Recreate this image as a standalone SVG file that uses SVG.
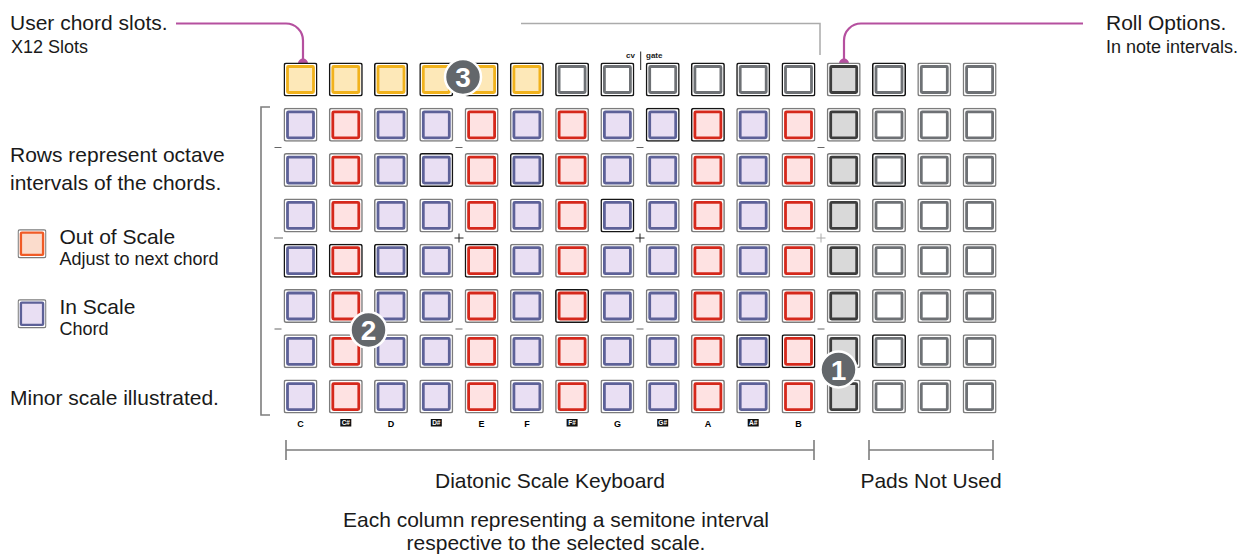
<svg xmlns="http://www.w3.org/2000/svg" xmlns:xlink="http://www.w3.org/1999/xlink" width="1253" height="557" viewBox="0 0 1253 557">
<style>
text{font-family:"Liberation Sans",Arial,sans-serif;fill:#1a1a1a}
.t{font-size:21px}
.s{font-size:18px}
.c{text-anchor:middle}
.n{font-size:9px;font-weight:bold;text-anchor:middle;fill:#000}
.sh{font-size:6.5px;font-weight:bold;text-anchor:middle;fill:#fff}
.pad{color:#7c7c7c}
.dk{color:#151515}
.o{fill:#fff;stroke:currentColor;stroke-width:1.5}
.lead{fill:none;stroke:#b5509f;stroke-width:2.2}
.gl{fill:none;stroke:#ababab;stroke-width:1.5}
.br{fill:none;stroke:#7d7d7d;stroke-width:1.6}
.tk{fill:none;stroke:#666;stroke-width:1}
.pl{fill:none;stroke:#222;stroke-width:1}
.bd circle{fill:#63676b;stroke:#fff;stroke-width:2.5}
.bd text{fill:#fff;font-size:28px;font-weight:bold;text-anchor:middle}
</style>
<defs>
<symbol id="P" viewBox="0 0 34 34"><rect class="o" x="0.75" y="0.75" width="32.5" height="32.5" rx="2"/><rect x="4" y="4" width="26" height="26" rx="1" fill="#e9dff3" stroke="#5d6198" stroke-width="2.8"/></symbol>
<symbol id="R" viewBox="0 0 34 34"><rect class="o" x="0.75" y="0.75" width="32.5" height="32.5" rx="2"/><rect x="4" y="4" width="26" height="26" rx="1" fill="#fee2e2" stroke="#d5281b" stroke-width="2.8"/></symbol>
<symbol id="Y" viewBox="0 0 34 34"><rect class="o" x="0.75" y="0.75" width="32.5" height="32.5" rx="2"/><rect x="4" y="4" width="26" height="26" rx="1" fill="#fde8b8" stroke="#f1b21c" stroke-width="2.8"/></symbol>
<symbol id="W" viewBox="0 0 34 34"><rect class="o" x="0.75" y="0.75" width="32.5" height="32.5" rx="2"/><rect x="4" y="4" width="26" height="26" rx="1" fill="#fff" stroke="#6e7175" stroke-width="2.8"/></symbol>
<symbol id="G" viewBox="0 0 34 34"><rect class="o" x="0.75" y="0.75" width="32.5" height="32.5" rx="2"/><rect x="4" y="4" width="26" height="26" rx="1" fill="#d9d9d9" stroke="#3d3d3d" stroke-width="2.8"/></symbol>
<symbol id="O" viewBox="0 0 34 34"><rect class="o" x="0.75" y="0.75" width="32.5" height="32.5" rx="2"/><rect x="4" y="4" width="26" height="26" rx="1" fill="#fbdccc" stroke="#f05b26" stroke-width="2.8"/></symbol>
</defs>
<rect width="1253" height="557" fill="#fff"/>

<g id="connectors">
<path class="lead" d="M176 23.5 H286 A17 17 0 0 1 303 40.5 V63"/>
<circle cx="303" cy="63.5" r="5" fill="#b5509f"/>
<path class="lead" d="M1083 23.5 H861 A17 17 0 0 0 844 40.5 V63"/>
<circle cx="844" cy="63.5" r="5" fill="#b5509f"/>
<path class="gl" d="M521 23.5 H820 V55"/>
<path class="br" d="M270 107 H261 V415 H270"/>
<path class="br" d="M286 450 H814 M286 440 V460 M814 440 V460"/>
<path class="br" d="M869 450 H993 M869 440 V460 M993 440 V460"/>
<path class="pl" d="M640.7 51.5 V70"/>
<path class="tk" d="M274.5 147.5 H281.5 M455.5 147.5 H462.5 M636.5 147.5 H643.5 M817.5 147.5 H824.5"/>
<path class="tk" d="M274 238 H283"/>
<path class="pl" d="M454.5 238 H463.5 M459 233.5 V242.5 M635.5 238 H644.5 M640 233.5 V242.5"/>
<path class="tk" style="stroke:#aaa" d="M816.5 238 H825.5 M821 233.5 V242.5"/>
<path class="tk" d="M274.5 329 H281.5 M455.5 329 H462.5 M636.5 329 H643.5 M817.5 329 H824.5"/>
</g>

<g id="pads">
<g id="pad-r0c0" class="pad dk"><use href="#Y" x="283.5" y="62.5" width="34" height="34"/></g>
<g id="pad-r0c1" class="pad dk"><use href="#Y" x="328.8" y="62.5" width="34" height="34"/></g>
<g id="pad-r0c2" class="pad dk"><use href="#Y" x="374" y="62.5" width="34" height="34"/></g>
<g id="pad-r0c3" class="pad dk"><use href="#Y" x="419.3" y="62.5" width="34" height="34"/></g>
<g id="pad-r0c4" class="pad dk"><use href="#Y" x="464.6" y="62.5" width="34" height="34"/></g>
<g id="pad-r0c5" class="pad dk"><use href="#Y" x="509.9" y="62.5" width="34" height="34"/></g>
<g id="pad-r0c6" class="pad dk"><use href="#W" x="555.1" y="62.5" width="34" height="34"/></g>
<g id="pad-r0c7" class="pad dk"><use href="#W" x="600.4" y="62.5" width="34" height="34"/></g>
<g id="pad-r0c8" class="pad dk"><use href="#W" x="645.7" y="62.5" width="34" height="34"/></g>
<g id="pad-r0c9" class="pad dk"><use href="#W" x="690.9" y="62.5" width="34" height="34"/></g>
<g id="pad-r0c10" class="pad dk"><use href="#W" x="736.2" y="62.5" width="34" height="34"/></g>
<g id="pad-r0c11" class="pad dk"><use href="#W" x="781.5" y="62.5" width="34" height="34"/></g>
<g id="pad-r0c12" class="pad"><use href="#G" x="826.7" y="62.5" width="34" height="34"/></g>
<g id="pad-r0c13" class="pad dk"><use href="#W" x="872" y="62.5" width="34" height="34"/></g>
<g id="pad-r0c14" class="pad"><use href="#W" x="917.3" y="62.5" width="34" height="34"/></g>
<g id="pad-r0c15" class="pad"><use href="#W" x="962.6" y="62.5" width="34" height="34"/></g>

<g id="pad-r1c0" class="pad"><use href="#P" x="283.5" y="107.8" width="34" height="34"/></g>
<g id="pad-r1c1" class="pad"><use href="#R" x="328.8" y="107.8" width="34" height="34"/></g>
<g id="pad-r1c2" class="pad"><use href="#P" x="374" y="107.8" width="34" height="34"/></g>
<g id="pad-r1c3" class="pad"><use href="#P" x="419.3" y="107.8" width="34" height="34"/></g>
<g id="pad-r1c4" class="pad"><use href="#R" x="464.6" y="107.8" width="34" height="34"/></g>
<g id="pad-r1c5" class="pad"><use href="#P" x="509.9" y="107.8" width="34" height="34"/></g>
<g id="pad-r1c6" class="pad"><use href="#R" x="555.1" y="107.8" width="34" height="34"/></g>
<g id="pad-r1c7" class="pad"><use href="#P" x="600.4" y="107.8" width="34" height="34"/></g>
<g id="pad-r1c8" class="pad dk"><use href="#P" x="645.7" y="107.8" width="34" height="34"/></g>
<g id="pad-r1c9" class="pad dk"><use href="#R" x="690.9" y="107.8" width="34" height="34"/></g>
<g id="pad-r1c10" class="pad"><use href="#P" x="736.2" y="107.8" width="34" height="34"/></g>
<g id="pad-r1c11" class="pad"><use href="#R" x="781.5" y="107.8" width="34" height="34"/></g>
<g id="pad-r1c12" class="pad"><use href="#G" x="826.7" y="107.8" width="34" height="34"/></g>
<g id="pad-r1c13" class="pad"><use href="#W" x="872" y="107.8" width="34" height="34"/></g>
<g id="pad-r1c14" class="pad"><use href="#W" x="917.3" y="107.8" width="34" height="34"/></g>
<g id="pad-r1c15" class="pad"><use href="#W" x="962.6" y="107.8" width="34" height="34"/></g>

<g id="pad-r2c0" class="pad"><use href="#P" x="283.5" y="153.1" width="34" height="34"/></g>
<g id="pad-r2c1" class="pad"><use href="#R" x="328.8" y="153.1" width="34" height="34"/></g>
<g id="pad-r2c2" class="pad"><use href="#P" x="374" y="153.1" width="34" height="34"/></g>
<g id="pad-r2c3" class="pad dk"><use href="#P" x="419.3" y="153.1" width="34" height="34"/></g>
<g id="pad-r2c4" class="pad"><use href="#R" x="464.6" y="153.1" width="34" height="34"/></g>
<g id="pad-r2c5" class="pad dk"><use href="#P" x="509.9" y="153.1" width="34" height="34"/></g>
<g id="pad-r2c6" class="pad"><use href="#R" x="555.1" y="153.1" width="34" height="34"/></g>
<g id="pad-r2c7" class="pad"><use href="#P" x="600.4" y="153.1" width="34" height="34"/></g>
<g id="pad-r2c8" class="pad"><use href="#P" x="645.7" y="153.1" width="34" height="34"/></g>
<g id="pad-r2c9" class="pad"><use href="#R" x="690.9" y="153.1" width="34" height="34"/></g>
<g id="pad-r2c10" class="pad"><use href="#P" x="736.2" y="153.1" width="34" height="34"/></g>
<g id="pad-r2c11" class="pad"><use href="#R" x="781.5" y="153.1" width="34" height="34"/></g>
<g id="pad-r2c12" class="pad"><use href="#G" x="826.7" y="153.1" width="34" height="34"/></g>
<g id="pad-r2c13" class="pad dk"><use href="#W" x="872" y="153.1" width="34" height="34"/></g>
<g id="pad-r2c14" class="pad"><use href="#W" x="917.3" y="153.1" width="34" height="34"/></g>
<g id="pad-r2c15" class="pad"><use href="#W" x="962.6" y="153.1" width="34" height="34"/></g>

<g id="pad-r3c0" class="pad"><use href="#P" x="283.5" y="198.4" width="34" height="34"/></g>
<g id="pad-r3c1" class="pad"><use href="#R" x="328.8" y="198.4" width="34" height="34"/></g>
<g id="pad-r3c2" class="pad"><use href="#P" x="374" y="198.4" width="34" height="34"/></g>
<g id="pad-r3c3" class="pad"><use href="#P" x="419.3" y="198.4" width="34" height="34"/></g>
<g id="pad-r3c4" class="pad"><use href="#R" x="464.6" y="198.4" width="34" height="34"/></g>
<g id="pad-r3c5" class="pad"><use href="#P" x="509.9" y="198.4" width="34" height="34"/></g>
<g id="pad-r3c6" class="pad"><use href="#R" x="555.1" y="198.4" width="34" height="34"/></g>
<g id="pad-r3c7" class="pad dk"><use href="#P" x="600.4" y="198.4" width="34" height="34"/></g>
<g id="pad-r3c8" class="pad"><use href="#P" x="645.7" y="198.4" width="34" height="34"/></g>
<g id="pad-r3c9" class="pad"><use href="#R" x="690.9" y="198.4" width="34" height="34"/></g>
<g id="pad-r3c10" class="pad"><use href="#P" x="736.2" y="198.4" width="34" height="34"/></g>
<g id="pad-r3c11" class="pad"><use href="#R" x="781.5" y="198.4" width="34" height="34"/></g>
<g id="pad-r3c12" class="pad"><use href="#G" x="826.7" y="198.4" width="34" height="34"/></g>
<g id="pad-r3c13" class="pad"><use href="#W" x="872" y="198.4" width="34" height="34"/></g>
<g id="pad-r3c14" class="pad"><use href="#W" x="917.3" y="198.4" width="34" height="34"/></g>
<g id="pad-r3c15" class="pad"><use href="#W" x="962.6" y="198.4" width="34" height="34"/></g>

<g id="pad-r4c0" class="pad dk"><use href="#P" x="283.5" y="243.7" width="34" height="34"/></g>
<g id="pad-r4c1" class="pad dk"><use href="#R" x="328.8" y="243.7" width="34" height="34"/></g>
<g id="pad-r4c2" class="pad dk"><use href="#P" x="374" y="243.7" width="34" height="34"/></g>
<g id="pad-r4c3" class="pad"><use href="#P" x="419.3" y="243.7" width="34" height="34"/></g>
<g id="pad-r4c4" class="pad dk"><use href="#R" x="464.6" y="243.7" width="34" height="34"/></g>
<g id="pad-r4c5" class="pad"><use href="#P" x="509.9" y="243.7" width="34" height="34"/></g>
<g id="pad-r4c6" class="pad"><use href="#R" x="555.1" y="243.7" width="34" height="34"/></g>
<g id="pad-r4c7" class="pad"><use href="#P" x="600.4" y="243.7" width="34" height="34"/></g>
<g id="pad-r4c8" class="pad"><use href="#P" x="645.7" y="243.7" width="34" height="34"/></g>
<g id="pad-r4c9" class="pad"><use href="#R" x="690.9" y="243.7" width="34" height="34"/></g>
<g id="pad-r4c10" class="pad"><use href="#P" x="736.2" y="243.7" width="34" height="34"/></g>
<g id="pad-r4c11" class="pad"><use href="#R" x="781.5" y="243.7" width="34" height="34"/></g>
<g id="pad-r4c12" class="pad"><use href="#G" x="826.7" y="243.7" width="34" height="34"/></g>
<g id="pad-r4c13" class="pad"><use href="#W" x="872" y="243.7" width="34" height="34"/></g>
<g id="pad-r4c14" class="pad"><use href="#W" x="917.3" y="243.7" width="34" height="34"/></g>
<g id="pad-r4c15" class="pad"><use href="#W" x="962.6" y="243.7" width="34" height="34"/></g>

<g id="pad-r5c0" class="pad"><use href="#P" x="283.5" y="289" width="34" height="34"/></g>
<g id="pad-r5c1" class="pad"><use href="#R" x="328.8" y="289" width="34" height="34"/></g>
<g id="pad-r5c2" class="pad"><use href="#P" x="374" y="289" width="34" height="34"/></g>
<g id="pad-r5c3" class="pad"><use href="#P" x="419.3" y="289" width="34" height="34"/></g>
<g id="pad-r5c4" class="pad"><use href="#R" x="464.6" y="289" width="34" height="34"/></g>
<g id="pad-r5c5" class="pad"><use href="#P" x="509.9" y="289" width="34" height="34"/></g>
<g id="pad-r5c6" class="pad dk"><use href="#R" x="555.1" y="289" width="34" height="34"/></g>
<g id="pad-r5c7" class="pad"><use href="#P" x="600.4" y="289" width="34" height="34"/></g>
<g id="pad-r5c8" class="pad"><use href="#P" x="645.7" y="289" width="34" height="34"/></g>
<g id="pad-r5c9" class="pad"><use href="#R" x="690.9" y="289" width="34" height="34"/></g>
<g id="pad-r5c10" class="pad"><use href="#P" x="736.2" y="289" width="34" height="34"/></g>
<g id="pad-r5c11" class="pad"><use href="#R" x="781.5" y="289" width="34" height="34"/></g>
<g id="pad-r5c12" class="pad"><use href="#G" x="826.7" y="289" width="34" height="34"/></g>
<g id="pad-r5c13" class="pad"><use href="#W" x="872" y="289" width="34" height="34"/></g>
<g id="pad-r5c14" class="pad"><use href="#W" x="917.3" y="289" width="34" height="34"/></g>
<g id="pad-r5c15" class="pad"><use href="#W" x="962.6" y="289" width="34" height="34"/></g>

<g id="pad-r6c0" class="pad"><use href="#P" x="283.5" y="334.3" width="34" height="34"/></g>
<g id="pad-r6c1" class="pad"><use href="#R" x="328.8" y="334.3" width="34" height="34"/></g>
<g id="pad-r6c2" class="pad"><use href="#P" x="374" y="334.3" width="34" height="34"/></g>
<g id="pad-r6c3" class="pad"><use href="#P" x="419.3" y="334.3" width="34" height="34"/></g>
<g id="pad-r6c4" class="pad"><use href="#R" x="464.6" y="334.3" width="34" height="34"/></g>
<g id="pad-r6c5" class="pad"><use href="#P" x="509.9" y="334.3" width="34" height="34"/></g>
<g id="pad-r6c6" class="pad"><use href="#R" x="555.1" y="334.3" width="34" height="34"/></g>
<g id="pad-r6c7" class="pad"><use href="#P" x="600.4" y="334.3" width="34" height="34"/></g>
<g id="pad-r6c8" class="pad"><use href="#P" x="645.7" y="334.3" width="34" height="34"/></g>
<g id="pad-r6c9" class="pad"><use href="#R" x="690.9" y="334.3" width="34" height="34"/></g>
<g id="pad-r6c10" class="pad dk"><use href="#P" x="736.2" y="334.3" width="34" height="34"/></g>
<g id="pad-r6c11" class="pad dk"><use href="#R" x="781.5" y="334.3" width="34" height="34"/></g>
<g id="pad-r6c12" class="pad"><use href="#G" x="826.7" y="334.3" width="34" height="34"/></g>
<g id="pad-r6c13" class="pad dk"><use href="#W" x="872" y="334.3" width="34" height="34"/></g>
<g id="pad-r6c14" class="pad"><use href="#W" x="917.3" y="334.3" width="34" height="34"/></g>
<g id="pad-r6c15" class="pad"><use href="#W" x="962.6" y="334.3" width="34" height="34"/></g>

<g id="pad-r7c0" class="pad"><use href="#P" x="283.5" y="379.6" width="34" height="34"/></g>
<g id="pad-r7c1" class="pad"><use href="#R" x="328.8" y="379.6" width="34" height="34"/></g>
<g id="pad-r7c2" class="pad"><use href="#P" x="374" y="379.6" width="34" height="34"/></g>
<g id="pad-r7c3" class="pad"><use href="#P" x="419.3" y="379.6" width="34" height="34"/></g>
<g id="pad-r7c4" class="pad"><use href="#R" x="464.6" y="379.6" width="34" height="34"/></g>
<g id="pad-r7c5" class="pad"><use href="#P" x="509.9" y="379.6" width="34" height="34"/></g>
<g id="pad-r7c6" class="pad"><use href="#R" x="555.1" y="379.6" width="34" height="34"/></g>
<g id="pad-r7c7" class="pad"><use href="#P" x="600.4" y="379.6" width="34" height="34"/></g>
<g id="pad-r7c8" class="pad"><use href="#P" x="645.7" y="379.6" width="34" height="34"/></g>
<g id="pad-r7c9" class="pad"><use href="#R" x="690.9" y="379.6" width="34" height="34"/></g>
<g id="pad-r7c10" class="pad"><use href="#P" x="736.2" y="379.6" width="34" height="34"/></g>
<g id="pad-r7c11" class="pad"><use href="#R" x="781.5" y="379.6" width="34" height="34"/></g>
<g id="pad-r7c12" class="pad"><use href="#G" x="826.7" y="379.6" width="34" height="34"/></g>
<g id="pad-r7c13" class="pad"><use href="#W" x="872" y="379.6" width="34" height="34"/></g>
<g id="pad-r7c14" class="pad"><use href="#W" x="917.3" y="379.6" width="34" height="34"/></g>
<g id="pad-r7c15" class="pad"><use href="#W" x="962.6" y="379.6" width="34" height="34"/></g>
</g>

<g id="cv-gate">
<text x="635" y="58" style="font-size:8px;font-weight:bold;text-anchor:end">cv</text>
<text x="646" y="58" style="font-size:8px;font-weight:bold">gate</text>
</g>

<g id="note-labels">
<text class="n" x="300.5" y="426.5">C</text>
<rect x="340.3" y="419" width="11" height="7.5" fill="#111"/><text class="sh" x="345.8" y="425">C#</text>
<text class="n" x="391" y="426.5">D</text>
<rect x="430.8" y="419" width="11" height="7.5" fill="#111"/><text class="sh" x="436.3" y="425">D#</text>
<text class="n" x="481.6" y="426.5">E</text>
<text class="n" x="526.9" y="426.5">F</text>
<rect x="566.6" y="419" width="11" height="7.5" fill="#111"/><text class="sh" x="572.1" y="425">F#</text>
<text class="n" x="617.4" y="426.5">G</text>
<rect x="657.2" y="419" width="11" height="7.5" fill="#111"/><text class="sh" x="662.7" y="425">G#</text>
<text class="n" x="707.9" y="426.5">A</text>
<rect x="747.7" y="419" width="11" height="7.5" fill="#111"/><text class="sh" x="753.2" y="425">A#</text>
<text class="n" x="798.5" y="426.5">B</text>
</g>

<g id="badge-3" class="bd"><circle cx="463" cy="77" r="18"/><text x="463" y="87">3</text></g>
<g id="badge-2" class="bd"><circle cx="368.5" cy="330" r="18"/><text x="368.5" y="340">2</text></g>
<g id="badge-1" class="bd"><circle cx="838.5" cy="369.5" r="18"/><text x="838.5" y="379.5">1</text></g>

<g id="label-user-chord">
<text class="t" x="10" y="30">User chord slots.</text>
<text class="s" x="11" y="53">X12 Slots</text>
</g>
<g id="label-roll">
<text class="t" x="1106" y="30">Roll Options.</text>
<text class="s" x="1106" y="53">In note intervals.</text>
</g>
<g id="label-rows">
<text class="t" x="10" y="162">Rows represent octave</text>
<text class="t" x="10" y="190">intervals of the chords.</text>
</g>
<g id="legend-out">
<use href="#O" x="17.5" y="228.5" width="29" height="30.5" preserveAspectRatio="none" class="pad"/>
<text class="t" x="59.5" y="244">Out of Scale</text>
<text class="s" x="59.5" y="264.5">Adjust to next chord</text>
</g>
<g id="legend-in">
<use href="#P" x="17.5" y="298.5" width="29" height="30.5" preserveAspectRatio="none" class="pad"/>
<text class="t" x="59.5" y="313.5">In Scale</text>
<text class="s" x="59.5" y="335">Chord</text>
</g>
<g id="label-minor">
<text class="t" x="10" y="404.5">Minor scale illustrated.</text>
</g>
<g id="label-diatonic"><text class="t c" x="550" y="488">Diatonic Scale Keyboard</text></g>
<g id="label-notused"><text class="t c" x="931" y="488">Pads Not Used</text></g>
<g id="label-column">
<text class="t c" x="556" y="527">Each column representing a semitone interval</text>
<text class="t c" x="556" y="550">respective to the selected scale.</text>
</g>
</svg>
